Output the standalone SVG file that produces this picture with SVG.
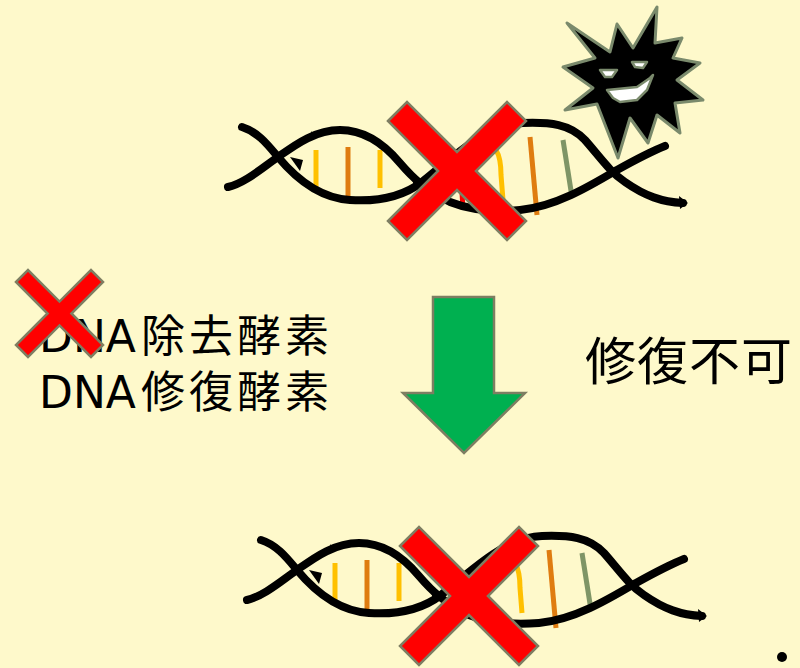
<svg xmlns="http://www.w3.org/2000/svg" xmlns:xlink="http://www.w3.org/1999/xlink" width="800" height="668" viewBox="0 0 800 668">
  <style>
    .strand { fill: none; stroke: #000; stroke-width: 8; stroke-linecap: round; stroke-linejoin: round; }
    .base { fill: none; stroke-width: 5; stroke-linecap: butt; }
    .yellow { stroke: #FFC000; }
    .orange { stroke: #DF7C10; }
    .green { stroke: #7F9566; }
    .red { stroke: #FF0000; }
    .cross { fill: #FF0000; stroke: #7E7E62; stroke-width: 2.5; stroke-linejoin: miter; vector-effect: non-scaling-stroke; }
    .virus { fill: #000; stroke: #7A8A6C; stroke-width: 3; stroke-linejoin: round; }
    .face { fill: #FFF; stroke: #7A8A6C; stroke-width: 2.5; stroke-linejoin: round; }
    .label { font-family: "Noto Sans CJK JP", "Noto Sans", sans-serif; fill: #000; }
    .latin { font-family: "DejaVu Sans", "Noto Sans", sans-serif; }
  </style>
  <defs>
    <!-- X mark centered at origin -->
    <path id="xmark" class="cross" d="M-69,-50 L-50,-69 L0,-19 L50,-69 L69,-50 L19,0 L69,50 L50,69 L0,19 L-50,69 L-69,50 L-19,0 Z"/>
    <!-- double helix with base pairs -->
    <g id="helix">
      <line class="base yellow" x1="316" y1="150" x2="316" y2="188"/>
      <line class="base orange" x1="348" y1="147" x2="348" y2="203"/>
      <line class="base yellow" x1="380" y1="150" x2="380" y2="188"/>
      <line class="base red" x1="462" y1="193" x2="463" y2="209"/>
      <path class="base yellow" d="M496,150 Q501,158 501,175 L503,200"/>
      <line class="base orange" x1="530" y1="137" x2="537" y2="215"/>
      <line class="base green" x1="563" y1="140" x2="572" y2="197"/>
      <path class="strand" d="M228,187 C245,183 262,168 278,157 C295,145 315,130 340,130 C365,130 385,145 400,163 C412,177 425,190 450,202 C470,210 495,212 520,210 C555,207 590,186 617,170 C635,160 650,152 665,146"/>
      <path class="strand" d="M242,127 C258,132 268,145 278,157 C293,175 318,198 350,200 C380,202 405,195 422,182 C450,160 485,124 523,123 C550,122 570,124 585,140 C600,157 610,172 625,182 C645,196 662,202 683,203"/>
      <path d="M290,157 L303,160 L300,171 Z" fill="#000"/>
      <path d="M311,131 L315,136 L312,138 Z" fill="#000"/>
      <path d="M412,176 L424,186 L414,189 Z" fill="#000"/>
      <path d="M679,196 L688,203 L680,209 Z" fill="#000"/>
    </g>
  </defs>

  <rect id="background" x="0" y="0" width="800" height="668" fill="#FEF9CB"/>

  <g id="dna-top">
    <use xlink:href="#helix" href="#helix"/>
  </g>

  <g id="virus">
    <path class="virus" d="M657,7 L655,43 L682,38 L673,58 L700,63 L677,80 L703,100 L675,103 L680,133 L657,115 L648,143 L630,118 L618,158 L597,104 L565,110 L593,88 L563,67 L595,58 L567,23 L610,52 L617,24 L633,48 Z"/>
    <path class="face" d="M600,70 L617,70 L612,77 L605,77 Z"/>
    <path class="face" d="M632,62 L647,62 L643,68 L635,67 Z"/>
    <path class="face" d="M607,90 L637,87 L650,78 L653,75 L647,90 L637,100 L620,102 L613,98 Z"/>
  </g>

  <g id="dna-top-cross">
    <use xlink:href="#xmark" href="#xmark" transform="translate(457,171)"/>
  </g>

  <g id="labels">
    <text class="label" x="39" y="352" font-size="44"><tspan class="latin">DNA</tspan><tspan x="141" letter-spacing="4">除去酵素</tspan></text>
    <text class="label" x="39" y="408" font-size="44"><tspan class="latin">DNA</tspan><tspan x="141" letter-spacing="4">修復酵素</tspan></text>
    <text class="label" x="585" y="380" font-size="51" textLength="207" lengthAdjust="spacing">修復不可</text>
  </g>

  <g id="enzyme-cross">
    <use xlink:href="#xmark" href="#xmark" transform="translate(59.5,313.5) scale(0.63)"/>
  </g>

  <g id="connectors">
    <path d="M433,297 L494,297 L494,393 L525,393 L464,453 L403,393 L433,393 Z" fill="#00B050" stroke="#7E7E62" stroke-width="2.5"/>
  </g>

  <g id="dna-bottom">
    <use xlink:href="#helix" href="#helix" transform="translate(19,413)"/>
  </g>

  <g id="dna-bottom-cross">
    <use xlink:href="#xmark" href="#xmark" transform="translate(469,596)"/>
  </g>

  <circle id="dot" cx="782" cy="657" r="5" fill="#000"/>
</svg>
